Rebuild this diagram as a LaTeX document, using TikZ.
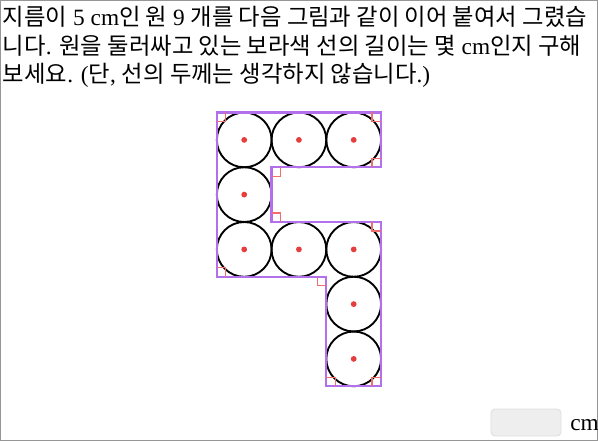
\documentclass[tikz,border=0pt]{standalone}
\usepackage{fontspec}
\setmainfont{Liberation Serif}
\newfontfamily\krfont{Noto Sans CJK KR}
\newcommand\K[1]{{\krfont #1}}
\definecolor{outl}{RGB}{178,112,236}
\definecolor{mk}{RGB}{240,110,110}
\definecolor{dotc}{RGB}{229,62,62}
\definecolor{frame}{RGB}{150,150,150}
\begin{document}
\begin{tikzpicture}[x=0.75pt,y=-0.75pt,
  txt/.style={anchor=base west,inner sep=0,font=\fontsize{17.5pt}{21pt}\selectfont},
  circ/.style={circle,draw=black,line width=1.4pt,minimum size=41.06pt,inner sep=0},
  dotm/.style={fill=dotc,draw=none},
  outline/.style={draw=outl,line width=1.6pt,line join=miter},
  rmark/.style={draw=mk,line width=0.9pt}]
\useasboundingbox (0,0) rectangle (598,441);
\draw[frame,line width=0.75pt] (0.5,0.5) rectangle (597.5,440.5);
% text
\node[txt] (l1) at (2.7,25.5) {\K{지름이} 5 cm\K{인 원} 9 \K{개를 다음 그림과 같이 이어 붙여서 그렸습}};
\node[txt] (l2) at (2.7,54.5) {\K{니다}. \K{원을 둘러싸고 있는 보라색 선의 길이는 몇} cm\K{인지 구해}};
\node[txt] (l3) at (2.7,83) {\K{보세요}. (\K{단}, \K{선의 두께는 생각하지 않습니다}.)};
% circles
\foreach \n/\cx/\cy in {1/244.2/139.9,2/298.9/139.9,3/353.7/139.9,4/244.2/194.6,5/244.2/249.4,6/298.9/249.4,7/353.7/249.4,8/353.7/304.1,9/353.7/358.9}{
  \node[circ] (c\n) at (\cx,\cy) {};
  \fill[dotm] (c\n.center) circle (2.9);
}
% outline corners
\coordinate (A) at (216.8,112.5);
\coordinate (B) at (381.05,112.5);
\coordinate (C) at (381.05,167.25);
\coordinate (D) at (271.55,167.25);
\coordinate (E) at (271.55,222);
\coordinate (F) at (381.05,222);
\coordinate (G) at (381.05,386.25);
\coordinate (H) at (326.3,386.25);
\coordinate (I) at (326.3,276.75);
\coordinate (J) at (216.8,276.75);
\path[outline] (A) -- (B) -- (C) -- (D) -- (E) -- (F) -- (G) -- (H) -- (I) -- (J) -- cycle;
\foreach \p/\sx/\sy in {A/9/9,B/-9/9,C/-9/-9,D/9/9,E/9/-9,F/-9/9,G/-9/-9,H/9/-9,I/-9/9,J/9/-9}{
  \path[rmark] (\p) ++(\sx,0) -- ++(0,\sy) -- ++(-\sx,0);
}
% answer box
\node[draw={rgb,255:red,222;green,222;blue,222},fill={rgb,255:red,238;green,238;blue,238},rounded corners=3pt,minimum width=52.5pt,minimum height=20.25pt,inner sep=0,line width=0.6pt] (box) at (526,422.5) {};
\node[txt] (cm) at (570,430) {cm};
\end{tikzpicture}
\end{document}
